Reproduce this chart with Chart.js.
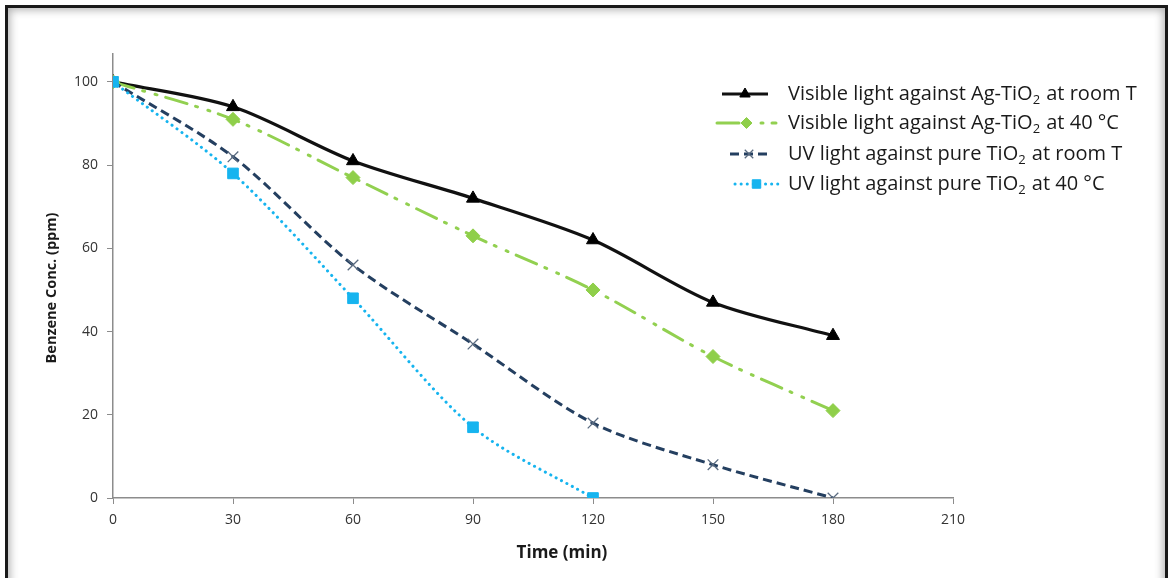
<!DOCTYPE html>
<html>
<head>
<meta charset="utf-8">
<script src="https://cdn.jsdelivr.net/npm/chart.js@4.4.1/dist/chart.umd.min.js"></script>
<style>
  html, body { margin: 0; padding: 0; background: #ffffff; }
  #wrap { position: relative; width: 1171px; height: 578px; overflow: hidden; background: #fff; }
  #frame { position: absolute; left: 5px; top: 5px; width: 1157px; height: 590px;
           border: 3px solid #1a1a1a; box-shadow: inset 0 0 8px 2px rgba(0,0,0,0.3); pointer-events: none; }
  canvas { position: absolute; left: 0; top: 0; }
</style>
</head>
<body>
<div id="wrap">
  <canvas id="c" width="1171" height="578"></canvas>
  <div id="frame"></div>
</div>
<script>
// ---- data ----
const times = [0, 30, 60, 90, 120, 150, 180];
const visibleRoomT = [100, 94, 81, 72, 62, 47, 39];
const visible40C   = [100, 91, 77, 63, 50, 34, 21];
const uvRoomT      = [100, 82, 56, 37, 18, 8, 0];
const uv40C        = [100, 78, 48, 17, 0];
const xTicks = [0, 30, 60, 90, 120, 150, 180, 210];
const yTicks = [0, 20, 40, 60, 80, 100];
const seriesNames = [
  ['Visible light against Ag-TiO', '2', ' at room T'],
  ['Visible light against Ag-TiO', '2', ' at 40 \u00B0C'],
  ['UV light against pure TiO', '2', ' at room T'],
  ['UV light against pure TiO', '2', ' at 40 \u00B0C']
];
const xTitle = 'Time (min)';
const yTitle = 'Benzene Conc. (ppm)';

const FONT = "'Open Sans', 'DejaVu Sans', sans-serif";
const pts = (ys) => ys.map((v, i) => ({ x: times[i], y: v }));

const styles = [
  { color: '#111111', dash: [], pointStyle: 'triangle', r: 7.5, cap: 'butt', ptColor: '#000000' },
  { color: '#92d050', dash: [22, 9, 2, 11, 2, 9], pointStyle: 'rectRot', r: 7, cap: 'round', ptColor: '#8fcf4a' },
  { color: '#243f60', dash: [9, 5], pointStyle: 'crossRot', r: 7.5, cap: 'butt', ptColor: '#5a6b80' },
  { color: '#16b4ef', dash: [0.1, 6], pointStyle: 'rect', r: 7.5, cap: 'round', ptColor: '#16b4ef' }
];
const seriesData = [visibleRoomT, visible40C, uvRoomT, uv40C];

const datasets = seriesData.map((d, i) => ({
  label: seriesNames[i].join(''),
  data: pts(d),
  borderColor: styles[i].color,
  backgroundColor: styles[i].ptColor,
  borderWidth: i === 0 ? 3.2 : 3,
  borderDash: styles[i].dash,
  borderCapStyle: styles[i].cap,
  tension: 0.3,
  pointStyle: styles[i].pointStyle,
  pointRadius: styles[i].r,
  pointBorderColor: styles[i].ptColor,
  pointBackgroundColor: styles[i].ptColor,
  pointBorderWidth: styles[i].pointStyle === 'crossRot' ? 1.3 : 1,
  order: 4 - i
}));

const customPlugin = {
  id: 'custom',
  afterDraw(chart) {
    const ctx = chart.ctx;
    ctx.save();
    // axis titles
    ctx.fillStyle = '#1a1a1a';
    ctx.textAlign = 'center';
    ctx.textBaseline = 'middle';
    ctx.font = "bold 17px " + FONT;
    ctx.fillText(xTitle, 562, 553);
    ctx.save();
    ctx.translate(52, 288);
    ctx.rotate(-Math.PI / 2);
    ctx.font = "bold 14.5px " + FONT;
    ctx.fillText(yTitle, 0, 0);
    ctx.restore();

    // legend
    const rowsY = [94, 123, 154, 184];
    const lineX = [[722, 768], [717, 776], [730, 768], [735, 778]];
    const textX = 788;
    for (let i = 0; i < 4; i++) {
      const s = styles[i];
      const y = rowsY[i];
      ctx.save();
      ctx.strokeStyle = s.color;
      ctx.lineWidth = 3;
      ctx.lineCap = s.cap;
      ctx.setLineDash(s.dash);
      ctx.beginPath();
      ctx.moveTo(lineX[i][0], y);
      ctx.lineTo(lineX[i][1], y);
      ctx.stroke();
      ctx.restore();
      ctx.save();
      ctx.fillStyle = s.ptColor;
      ctx.strokeStyle = s.ptColor;
      ctx.lineWidth = s.pointStyle === 'crossRot' ? 1.3 : 1;
      Chart.helpers.drawPoint(ctx, {
        pointStyle: s.pointStyle, radius: s.r - 1.5, borderWidth: s.pointStyle === 'crossRot' ? 1.3 : 1
      }, (lineX[i][0] + lineX[i][1]) / 2, y);
      ctx.restore();

      // text with subscript
      const [a, sub, b] = seriesNames[i];
      ctx.fillStyle = '#1a1a1a';
      ctx.textAlign = 'left';
      ctx.textBaseline = 'middle';
      ctx.font = "20px " + FONT;
      let x = textX;
      ctx.fillText(a, x, y);
      x += ctx.measureText(a).width;
      ctx.font = "13px " + FONT;
      ctx.fillText(sub, x, y + 6);
      x += ctx.measureText(sub).width + 1;
      ctx.font = "20px " + FONT;
      ctx.fillText(b, x, y);
    }
    ctx.restore();
  }
};

new Chart(document.getElementById('c'), {
  type: 'line',
  data: { datasets },
  options: {
    responsive: false,
    animation: false,
    layout: { padding: { left: 0, right: 218, top: 54, bottom: 0 } },
    plugins: { legend: { display: false }, tooltip: { enabled: false } },
    scales: {
      x: {
        type: 'linear',
        min: 0, max: 210,
        afterBuildTicks: (s) => { s.ticks = xTicks.map(v => ({ value: v })); },
        afterFit: (s) => { s.height = 80; },
        grid: { drawOnChartArea: false, drawTicks: true, tickLength: 6, color: '#8c8c8c', lineWidth: 1 },
        border: { color: '#8c8c8c', width: 1.5 },
        ticks: { font: { family: FONT, size: 14 }, color: '#333333', padding: 8, maxRotation: 0 }
      },
      y: {
        type: 'linear',
        min: 0, max: 106.7,
        afterBuildTicks: (s) => { s.ticks = yTicks.map(v => ({ value: v })); },
        afterFit: (s) => { s.width = 113; },
        grid: { drawOnChartArea: false, drawTicks: true, tickLength: 6, color: '#8c8c8c', lineWidth: 1 },
        border: { color: '#8c8c8c', width: 1.5 },
        ticks: { font: { family: FONT, size: 14 }, color: '#333333', padding: 9 }
      }
    }
  },
  plugins: [customPlugin]
});
</script>
</body>
</html>
